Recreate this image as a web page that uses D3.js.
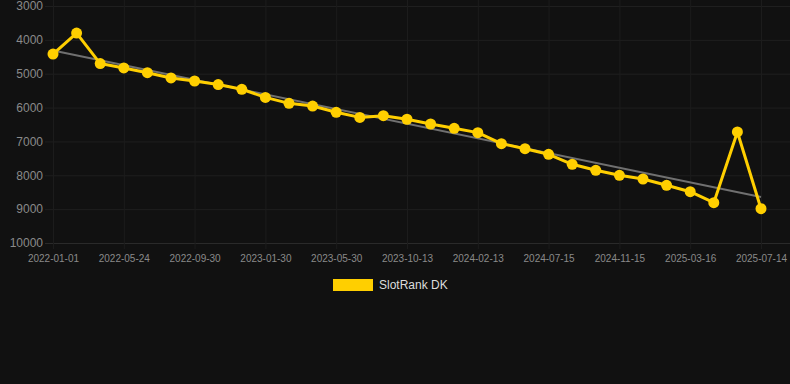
<!DOCTYPE html>
<html>
<head>
<meta charset="utf-8">
<script src="https://cdn.jsdelivr.net/npm/d3@7"></script>
<style>
  html, body { margin: 0; padding: 0; background: #111111; }
  #chart { width: 790px; height: 384px; }
  text { font-family: "Liberation Sans", Arial, sans-serif; }
</style>
</head>
<body>
<div id="chart"></div>
<script>
// Dates (categories) and ranks
const dates = [
    "2022-01-01", "2022-02-16", "2022-04-05", "2022-05-24", "2022-07-05", "2022-08-17",
    "2022-09-30", "2022-11-10", "2022-12-20", "2023-01-30", "2023-03-10", "2023-04-20",
    "2023-05-30", "2023-07-14", "2023-08-28", "2023-10-13", "2023-11-23", "2024-01-03",
    "2024-02-13", "2024-03-28", "2024-05-31", "2024-07-15", "2024-08-25", "2024-10-05",
    "2024-11-15", "2024-12-26", "2025-02-04", "2025-03-16", "2025-04-25", "2025-06-04",
    "2025-07-14"
];
const ranks = [
    4420, 3800, 4700, 4830, 4970, 5125, 5215, 5320, 5460, 5700, 5875, 5955,
    6140, 6290, 6240, 6345, 6485, 6612, 6740, 7065, 7214, 7380, 7675, 7852,
    8000, 8110, 8295, 8485, 8810, 6720, 8987
];
const yTicks = [3000, 4000, 5000, 6000, 7000, 8000, 9000, 10000];
const seriesName = "SlotRank DK";

const width = 790, height = 384;
const yellow = "#ffcf00";

const svg = d3.select("#chart")
    .append("svg")
    .attr("width", width)
    .attr("height", height);

const x = d3.scalePoint().domain(dates).range([53, 761]);
const y = d3.scaleLinear().domain([3000, 10000]).range([6, 243]);

// Horizontal grid
svg.append("g")
    .selectAll("line")
    .data(yTicks)
    .join("line")
    .attr("x1", 45)
    .attr("x2", width)
    .attr("y1", d => y(d) + 0.5)
    .attr("y2", d => y(d) + 0.5)
    .attr("stroke", d => d === 10000 ? "#2a2a2a" : "#1f1f1f");

// Vertical grid at labelled dates
const xTickDates = dates.filter((d, i) => i % 3 === 0);
svg.append("g")
    .selectAll("line")
    .data(xTickDates)
    .join("line")
    .attr("x1", d => x(d) + 0.5)
    .attr("x2", d => x(d) + 0.5)
    .attr("y1", y(3000) - 6)
    .attr("y2", y(10000) + 6)
    .attr("stroke", "#1c1c1c");

// Y axis labels
const yAxis = svg.append("g")
    .attr("transform", "translate(43,0)")
    .call(d3.axisLeft(y).tickValues(yTicks).tickFormat(d3.format("d")).tickSize(0).tickPadding(0));
yAxis.select(".domain").remove();
yAxis.selectAll("text")
    .attr("fill", "#8a8a8a")
    .style("font-size", "12px")
    .style("font-family", "'Liberation Sans', Arial, sans-serif");

// X axis labels
const xAxis = svg.append("g")
    .attr("transform", `translate(0, ${y(10000) + 6})`)
    .call(d3.axisBottom(x).tickValues(xTickDates).tickSize(0).tickPadding(6));
xAxis.select(".domain").remove();
xAxis.selectAll("text")
    .attr("fill", "#8a8a8a")
    .style("font-size", "10px")
    .style("font-family", "'Liberation Sans', Arial, sans-serif");

// Linear trend line (least squares over index)
const n = ranks.length;
const idx = d3.range(n);
const mx = d3.mean(idx), my = d3.mean(ranks);
const slope = d3.sum(idx, i => (i - mx) * (ranks[i] - my)) / d3.sum(idx, i => (i - mx) ** 2);
const intercept = my - slope * mx;
svg.append("line")
    .attr("x1", x(dates[0]))
    .attr("y1", y(intercept))
    .attr("x2", x(dates[n - 1]))
    .attr("y2", y(intercept + slope * (n - 1)))
    .attr("stroke", "#707070")
    .attr("stroke-width", 2);

// Series line
const line = d3.line()
    .x((d, i) => x(dates[i]))
    .y(d => y(d));
svg.append("path")
    .datum(ranks)
    .attr("d", line)
    .attr("fill", "none")
    .attr("stroke", yellow)
    .attr("stroke-width", 3)
    .attr("stroke-linejoin", "round");

svg.append("g")
    .selectAll("circle")
    .data(ranks)
    .join("circle")
    .attr("cx", (d, i) => x(dates[i]))
    .attr("cy", d => y(d))
    .attr("r", 5.5)
    .attr("fill", yellow);

// Legend
const legend = svg.append("g").attr("transform", "translate(333,279)");
legend.append("rect")
    .attr("width", 40)
    .attr("height", 12)
    .attr("fill", yellow);
legend.append("text")
    .attr("x", 46)
    .attr("y", 10)
    .attr("fill", "#dddddd")
    .style("font-size", "12px")
    .text(seriesName);
</script>
</body>
</html>
